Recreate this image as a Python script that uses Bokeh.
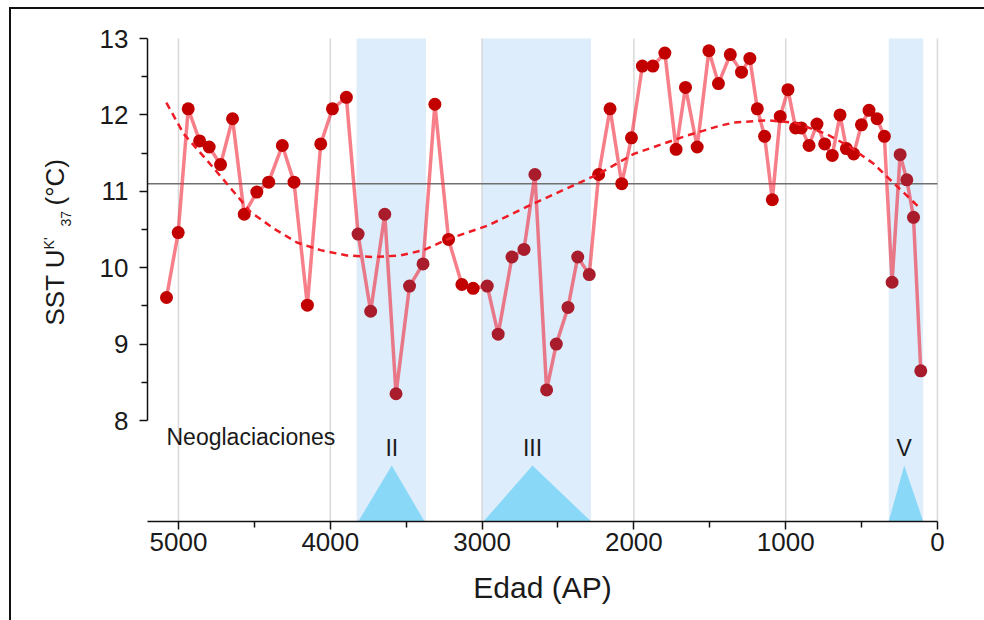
import numpy as np
from bokeh.plotting import figure
from bokeh.models import Range1d, FixedTicker, Label
from bokeh.core.properties import value
from bokeh.embed import file_html
from bokeh.resources import INLINE

# ---- data ----
ages = [5079, 5002, 4936, 4861, 4798, 4723, 4644, 4567, 4484, 4406, 4316, 4239, 4151, 4063,
        3986, 3894, 3817, 3734, 3641, 3567, 3478, 3389, 3311, 3221, 3133, 3059, 2966, 2894,
        2803, 2724, 2652, 2575, 2511, 2434, 2370, 2294, 2232, 2157, 2080, 2016, 1944, 1875,
        1796, 1722, 1660, 1583, 1506, 1443, 1365, 1291, 1236, 1187, 1139, 1088, 1036, 985,
        935, 897, 846, 794, 743, 693, 642, 600, 552, 501, 451, 398, 350, 299, 246, 202, 158, 110]
sst = [9.61, 10.46, 12.08, 11.66, 11.58, 11.35, 11.95, 10.70, 10.99, 11.12, 11.60, 11.12, 9.51, 11.62,
       12.08, 12.23, 10.44, 9.43, 10.70, 8.35, 9.76, 10.05, 12.14, 10.37, 9.78, 9.73, 9.76, 9.13,
       10.14, 10.24, 11.22, 8.40, 9.00, 9.48, 10.14, 9.91, 11.22, 12.08, 11.10, 11.70, 12.64, 12.64,
       12.81, 11.55, 12.36, 11.58, 12.84, 12.41, 12.79, 12.56, 12.74, 12.08, 11.72, 10.89, 11.98, 12.33,
       11.83, 11.83, 11.60, 11.88, 11.62, 11.47, 12.00, 11.56, 11.49, 11.87, 12.06, 11.95, 11.72, 9.81,
       11.48, 11.15, 10.66, 8.65]

trend_ages = [5080, 4965, 4810, 4660, 4525, 4370, 4220, 4065, 3890, 3715, 3540, 3385, 3230, 2965,
              2660, 2240, 2000, 1650, 1430, 1340, 1125, 945, 730, 575, 420, 285, 110]
trend_sst = [12.16, 11.75, 11.40, 11.05, 10.73, 10.51, 10.33, 10.23, 10.16, 10.14, 10.16, 10.23, 10.37,
             10.55, 10.84, 11.22, 11.49, 11.73, 11.86, 11.90, 11.93, 11.90, 11.75, 11.58, 11.36, 11.10, 10.77]

mean_sst = 11.1

band_labels = ["II", "III", "V"]
band_start = [3827, 3002, 321]
band_end = [3370, 2283, 94]
tri_left = [3815, 2990, 321]
tri_apex = [3595, 2668, 219]
tri_right = [3380, 2283, 94]
tri_top = 7.41
label_y = 7.64

x_ticks = [0, 1000, 2000, 3000, 4000, 5000]
x_minor = [500, 1500, 2500, 3500, 4500]
y_ticks = [8, 9, 10, 11, 12, 13]
y_minor = [8.5, 9.5, 10.5, 11.5, 12.5]

AGE_MAX = 5204   # left end of the age axis
AGE_MIN = 0
AXIS_Y = 6.68    # level of the age axis
TOP = 13

FONT = "Liberation Sans"
TXT = "#1a1a1a"

# the frame covers almost the whole canvas; both axes sit at fixed locations inside it,
# so that the axis titles (with super/subscripts) can be drawn as labels
p = figure(width=984, height=620, output_backend="svg", toolbar_location=None,
           x_range=Range1d(5975, -178), y_range=Range1d(5.513, 13.236),
           min_border_left=30, min_border_right=20, min_border_top=20, min_border_bottom=10)
p.border_fill_color = None
p.background_fill_color = "white"
p.outline_line_color = None
p.styles = {"background": "linear-gradient(#111,#111) 9px 7px / 2px 100% no-repeat, "
                          "linear-gradient(#111,#111) 9px 7px / 100% 2px no-repeat, #ffffff"}
p.xgrid.grid_line_color = None
p.ygrid.grid_line_color = None

# bands
p.quad(left=band_start, right=band_end, bottom=AXIS_Y, top=TOP, fill_color="#ddedfb", line_color=None)

# vertical grid lines at the major age ticks
p.segment(x0=x_ticks, x1=x_ticks, y0=[AXIS_Y] * len(x_ticks), y1=[TOP] * len(x_ticks),
          line_color="#d8d8d8", line_width=1.5)

# triangles
p.patches(xs=[[a, b, c] for a, b, c in zip(tri_left, tri_apex, tri_right)],
          ys=[[AXIS_Y, tri_top, AXIS_Y] for _ in band_labels],
          fill_color="#8ad8f8", line_color=None)

# mean line (only across the age axis)
p.segment(x0=[AGE_MAX], x1=[AGE_MIN], y0=[mean_sst], y1=[mean_sst], line_color="#707070", line_width=1.5)

# data line and points
p.line(ages, sst, line_color="#f02a3a", line_alpha=0.6, line_width=3.5)
in_band = [any(e <= a <= s for s, e in zip(band_start, band_end)) for a in ages]
colors = ["#a81c2c" if b else "#c20000" for b in in_band]
p.scatter(ages, sst, size=13, fill_color=colors, line_color=None)

# trend
p.line(trend_ages, trend_sst, line_color="#ee1c25", line_width=2.5, line_dash="7 5")

# annotation texts
p.text(x=tri_apex, y=[label_y] * 3, text=band_labels, text_align="center", text_baseline="alphabetic",
       text_font=value(FONT), text_font_size="23px", text_color=TXT)
p.text(x=[5079], y=[7.78], text=["Neoglaciaciones"], text_align="left", text_baseline="alphabetic",
       text_font=value(FONT), text_font_size="23px", text_color=TXT)

# axes
xa = p.xaxis[0]
xa.ticker = FixedTicker(ticks=x_ticks, minor_ticks=x_minor)
xa.bounds = (AGE_MIN, AGE_MAX)
xa.fixed_location = AXIS_Y
ya = p.yaxis[0]
ya.ticker = FixedTicker(ticks=y_ticks, minor_ticks=y_minor)
ya.bounds = (8, TOP)
ya.fixed_location = AGE_MAX
for ax in (xa, ya):
    ax.axis_line_color = "#111111"
    ax.axis_line_width = 1.5
    ax.major_tick_line_color = "#111111"
    ax.minor_tick_line_color = "#111111"
    ax.major_tick_line_width = 1.5
    ax.minor_tick_line_width = 1.5
    ax.major_tick_in = 0
    ax.minor_tick_in = 0
    ax.major_tick_out = 8
    ax.minor_tick_out = 6
    ax.major_label_text_font = FONT
    ax.major_label_text_font_size = "26px"
    ax.major_label_text_color = TXT
xa.major_label_standoff = 4
ya.major_label_standoff = 11

# x-axis title
p.add_layout(Label(x=(AGE_MAX + AGE_MIN) / 2, y=5.814, text="Edad (AP)", text_align="center",
                   text_baseline="alphabetic", text_font=FONT, text_font_size="30px", text_color=TXT))

# y-axis title built of pieces (superscript / subscript)
ang = np.pi / 2
for txt, x, y, fs in [("SST U", 5814, 9.243, "26px"), ("K'", 5856, 10.24, "14px"),
                      ("37", 5744, 10.54, "14px"), ("(°C)", 5814, 10.814, "26px")]:
    p.add_layout(Label(x=x, y=y, text=txt, angle=ang, text_align="left", text_baseline="alphabetic",
                       text_font=FONT, text_font_size=fs, text_color=TXT))

open("out.html", "w").write(file_html(p, INLINE))
